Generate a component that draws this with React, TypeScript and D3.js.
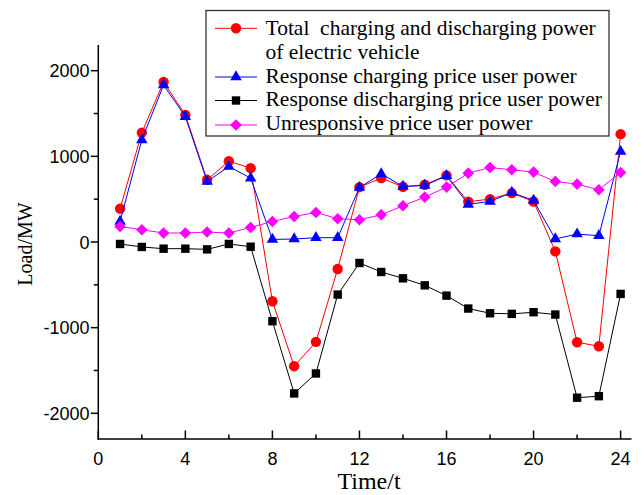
import React from "react";
import * as d3 from "d3";

const times = d3.range(1, 25);
const totalPower = [389, 1277, 1868, 1483, 726, 944, 862, -692, -1450, -1166, -315, 640, 746, 645, 668, 778, 470, 501, 571, 473, -110, -1170, -1217, 1259];
const chargingPower = [240, 1192, 1833, 1464, 706, 881, 746, 30, 35, 50, 50, 636, 796, 648, 660, 773, 440, 473, 578, 485, 35, 93, 73, 1056];
const dischargingPower = [-23, -58, -78, -78, -86, -23, -55, -925, -1768, -1535, -614, -245, -350, -424, -506, -626, -777, -832, -839, -820, -847, -1818, -1800, -606];
const unresponsivePower = [182, 143, 105, 105, 116, 105, 170, 240, 298, 345, 272, 260, 318, 423, 524, 641, 804, 869, 843, 816, 706, 676, 610, 811];

const xTicks = [0, 4, 8, 12, 16, 20, 24];
const xMinor = [2, 6, 10, 14, 18, 22];
const yTicks = [-2000, -1000, 0, 1000, 2000];
const yMinor = [-1500, -500, 500, 1500];

const seriesNames = [
  ["Total  charging and discharging power", "of electric vehicle"],
  ["Response charging price user power"],
  ["Response discharging price user power"],
  ["Unresponsive price user power"],
];

type Shape = "circle" | "triangle" | "square" | "diamond";
const series: { values: number[]; color: string; shape: Shape }[] = [
  { values: totalPower, color: "#ff0000", shape: "circle" },
  { values: chargingPower, color: "#0000ff", shape: "triangle" },
  { values: dischargingPower, color: "#000000", shape: "square" },
  { values: unresponsivePower, color: "#ff00ff", shape: "diamond" },
];

function Marker({ shape, x, y, color }: { shape: Shape; x: number; y: number; color: string }) {
  if (shape === "circle") return <circle cx={x} cy={y} r={5.2} fill={color} />;
  if (shape === "square") return <rect x={x - 4.2} y={y - 4.2} width={8.4} height={8.4} fill={color} />;
  if (shape === "triangle") {
    const s = 11.5;
    const h = (s * Math.sqrt(3)) / 2;
    return <path d={`M${x},${y - (2 * h) / 3}L${x + s / 2},${y + h / 3}L${x - s / 2},${y + h / 3}Z`} fill={color} />;
  }
  const r = 5.8;
  return <path d={`M${x},${y - r}L${x + r},${y}L${x},${y + r}L${x - r},${y}Z`} fill={color} />;
}

export default function App() {
  const W = 644, H = 495;
  const x = d3.scaleLinear().domain([0, 24.5]).range([98.3, 631.5]);
  const y = d3.scaleLinear().domain([-2300, 2300]).range([439, 45]);
  const line = d3.line<number>().x((_, i) => x(times[i])).y((d) => y(d));
  const tickFont = "Arial, 'Liberation Sans', sans-serif";
  const serif = "'Times New Roman', 'Liberation Serif', serif";

  const legendRowsY = [28.3, 77, 100.5, 125];
  const legendBaselines = [[35, 58.7], [82.5], [106], [130]];

  return (
    <svg width={W} height={H} style={{ position: "absolute", left: 0, top: 0, background: "#fff" }}>
      <rect x={0} y={0} width={W} height={H} fill="#fff" />
      {series.map((s, si) => (
        <g key={si}>
          <path d={line(s.values) || ""} fill="none" stroke={s.color} strokeWidth={1} />
          {s.values.map((v, i) => (
            <Marker key={i} shape={s.shape} x={x(times[i])} y={y(v)} color={s.color} />
          ))}
        </g>
      ))}
      <line x1={x(0)} x2={x(0)} y1={y(2300)} y2={y(-2300) + 0.75} stroke="#000" strokeWidth={1.5} />
      <line x1={x(0) - 0.75} x2={x(24.5)} y1={y(-2300)} y2={y(-2300)} stroke="#000" strokeWidth={1.5} />
      {yTicks.map((t) => (
        <g key={t}>
          <line x1={x(0) - 7.5} x2={x(0)} y1={y(t)} y2={y(t)} stroke="#000" strokeWidth={1.5} />
          <text x={89.5} y={y(t) + 6.5} textAnchor="end" fontFamily={tickFont} fontSize={18}>
            {t}
          </text>
        </g>
      ))}
      {yMinor.map((t) => (
        <line key={t} x1={x(0) - 4.5} x2={x(0)} y1={y(t)} y2={y(t)} stroke="#000" strokeWidth={1.5} />
      ))}
      {xTicks.map((t) => (
        <g key={t}>
          <line x1={x(t)} x2={x(t)} y1={y(-2300)} y2={y(-2300) - 8.5} stroke="#000" strokeWidth={1.5} />
          <text x={x(t)} y={465} textAnchor="middle" fontFamily={tickFont} fontSize={18}>
            {t}
          </text>
        </g>
      ))}
      {xMinor.map((t) => (
        <line key={t} x1={x(t)} x2={x(t)} y1={y(-2300)} y2={y(-2300) - 4.5} stroke="#000" strokeWidth={1.5} />
      ))}
      <text x={369} y={489} textAnchor="middle" fontFamily={serif} fontSize={24}>
        Time/t
      </text>
      <text transform={`translate(32,244) rotate(-90)`} textAnchor="middle" fontFamily={serif} fontSize={20}>
        Load/MW
      </text>
      <rect x={206} y={10.5} width={403} height={125.5} fill="#fff" stroke="#333" strokeWidth={1.3} />
      {series.map((s, si) => (
        <g key={si}>
          <line x1={215} x2={257} y1={legendRowsY[si]} y2={legendRowsY[si]} stroke={s.color} strokeWidth={1} />
          <Marker shape={s.shape} x={236} y={legendRowsY[si]} color={s.color} />
          {seriesNames[si].map((txt, li) => (
            <text key={li} x={265.5} y={legendBaselines[si][li]} fontFamily={serif} fontSize={21.5} style={{ whiteSpace: "pre" }}>
              {txt}
            </text>
          ))}
        </g>
      ))}
    </svg>
  );
}
